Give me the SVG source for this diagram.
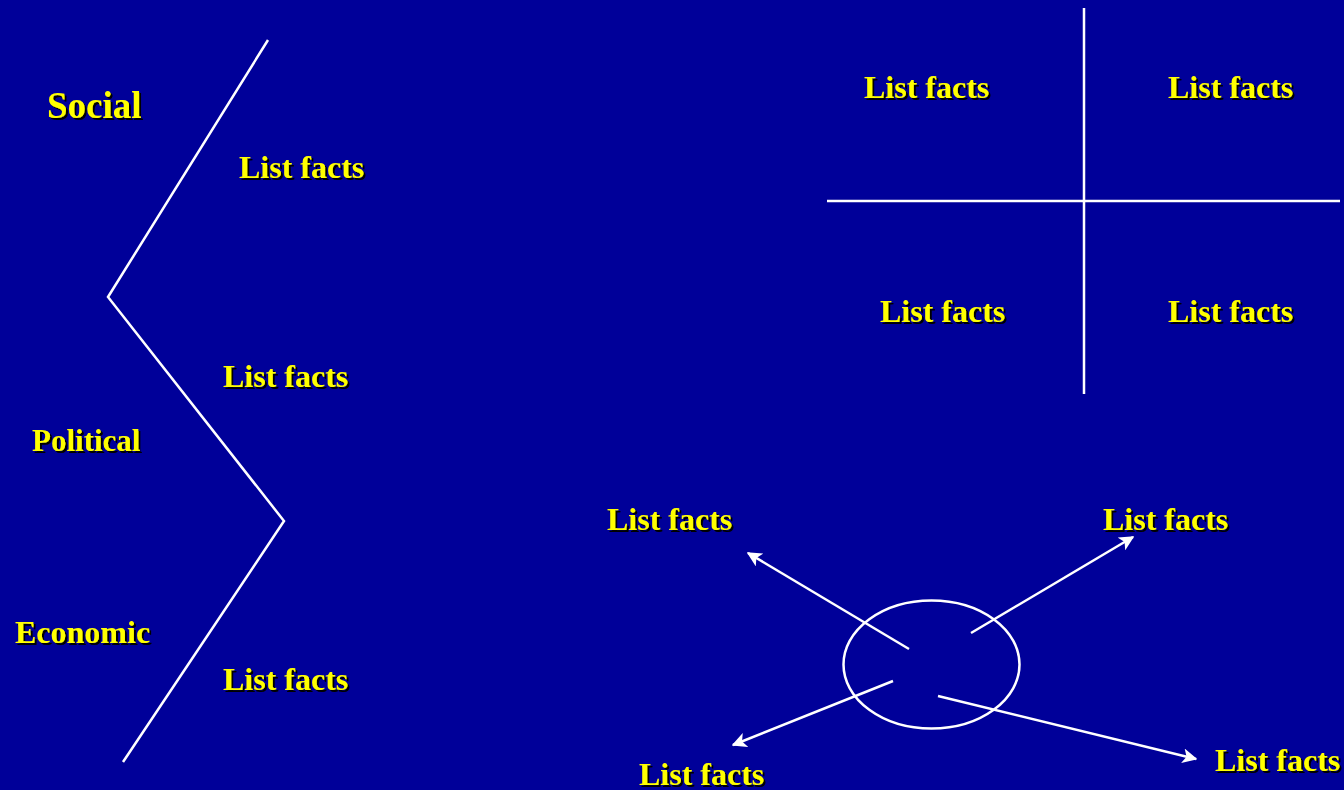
<svg xmlns="http://www.w3.org/2000/svg" width="1344" height="790" viewBox="0 0 1344 790">
<defs>
<style>
.t{font-family:"Liberation Serif","Times New Roman",serif;font-weight:bold;font-size:32px;fill:#ffff00;filter:url(#sh)}
.ln{stroke:#ffffff;stroke-width:2.5;fill:none}
.ar{stroke:#ffffff;stroke-width:2.5;fill:none;marker-end:url(#ah)}
</style>
<filter id="sh" x="-10%" y="-30%" width="130%" height="170%">
<feDropShadow dx="2" dy="2" stdDeviation="0.7" flood-color="#000000" flood-opacity="1"/>
</filter>
<marker id="ah" viewBox="0 0 10 10" refX="9" refY="5" markerWidth="6" markerHeight="6" orient="auto" markerUnits="strokeWidth">
<path d="M0,0 L10,5 L0,10 L2.5,5 Z" fill="#ffffff"/>
</marker>
</defs>
<rect width="1344" height="790" fill="#000099"/>
<g id="connectors">
<polyline class="ln" points="268,40 108,297 284,521 123,762"/>
<line class="ln" x1="1084" y1="8" x2="1084" y2="394"/>
<line class="ln" x1="827" y1="201" x2="1340" y2="201"/>
<line class="ar" x1="909" y1="649" x2="748" y2="553"/>
<line class="ar" x1="971" y1="633" x2="1133" y2="537"/>
<line class="ar" x1="893" y1="681" x2="733" y2="745"/>
<line class="ar" x1="938" y1="696" x2="1196" y2="759"/>
</g>
<g id="circle"><ellipse class="ln" cx="931.5" cy="664.5" rx="88" ry="64"/></g>
<g id="social"><text class="t" x="47" y="118" style="font-size:37px">Social</text></g>
<g id="political"><text class="t" x="32" y="451" style="font-size:31px">Political</text></g>
<g id="economic"><text class="t" x="15" y="643">Economic</text></g>
<g id="facts1"><text class="t" x="239" y="178">List facts</text></g>
<g id="facts2"><text class="t" x="223" y="387">List facts</text></g>
<g id="facts3"><text class="t" x="223" y="690">List facts</text></g>
<g id="q1"><text class="t" x="864" y="98">List facts</text></g>
<g id="q2"><text class="t" x="1168" y="98">List facts</text></g>
<g id="q3"><text class="t" x="880" y="322">List facts</text></g>
<g id="q4"><text class="t" x="1168" y="322">List facts</text></g>
<g id="a1"><text class="t" x="607" y="530">List facts</text></g>
<g id="a2"><text class="t" x="1103" y="530">List facts</text></g>
<g id="a3"><text class="t" x="639" y="785">List facts</text></g>
<g id="a4"><text class="t" x="1215" y="771">List facts</text></g>
</svg>
